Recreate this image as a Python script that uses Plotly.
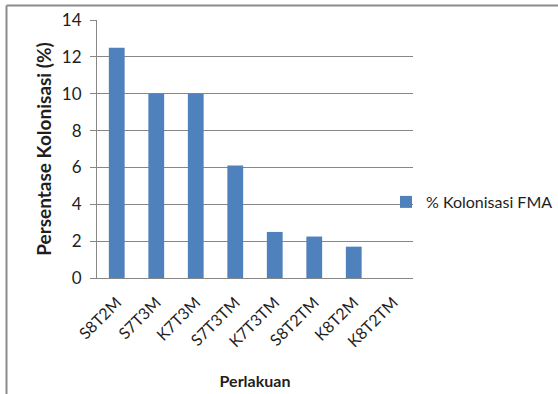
import plotly.graph_objects as go

categories = ["S8T2M", "S7T3M", "K7T3M", "S7T3TM", "K7T3TM", "S8T2TM", "K8T2M", "K8T2TM"]
values = [12.5, 10.0, 10.0, 6.1, 2.5, 2.25, 1.7, 0.0]
series_name = "% Kolonisasi FMA"
y_ticks = [0, 2, 4, 6, 8, 10, 12, 14]

W, H = 558, 394
L, R, T, B = 97, 413, 20, 278
pw, ph = R - L, B - T

FONT = "Lato, 'DejaVu Sans', sans-serif"
GRID = "#878787"
TXT = "#1e1e1e"

fig = go.Figure()
fig.add_trace(go.Bar(
    x=categories, y=values, name=series_name,
    marker=dict(color="#4F81BD", line=dict(width=0)),
    showlegend=True,
))

def px_x(x):
    return (x - L) / pw

def px_y(y):
    return (B - y) / ph

fig.update_layout(
    width=W, height=H,
    margin=dict(l=L, r=W - R, t=T, b=H - B, pad=0, autoexpand=False),
    paper_bgcolor="white", plot_bgcolor="white",
    bargap=0.6,
    font=dict(family=FONT, color=TXT),
    showlegend=True,
    legend=dict(
        x=px_x(386), y=px_y(202), xanchor="left", yanchor="middle",
        font=dict(size=16, family=FONT, color=TXT),
        bgcolor="rgba(0,0,0,0)", borderwidth=0,
        itemwidth=30,
    ),
    xaxis=dict(
        tickangle=-45, tickfont=dict(size=16, family=FONT, color=TXT),
        showline=True, linecolor=GRID, linewidth=1,
        ticks="", showgrid=False,
        ticklabelstandoff=8,
        title=dict(text="<b>Perlakuan</b>", font=dict(size=16, family=FONT, color=TXT), standoff=26),
    ),
    yaxis=dict(
        range=[0, 14], tickvals=y_ticks, ticktext=[str(v) for v in y_ticks],
        tickfont=dict(size=17, family=FONT, color=TXT),
        showgrid=True, gridcolor=GRID, gridwidth=1,
        showline=True, linecolor=GRID, linewidth=1,
        ticks="outside", ticklen=6, tickcolor=GRID,
        ticklabelstandoff=5,
        zeroline=False,
        title=dict(text="<b>Persentase Kolonisasi (%)</b>", font=dict(size=19, family=FONT, color=TXT), standoff=5),
    ),
    shapes=[
        dict(type="line", xref="paper", yref="paper",
             x0=px_x(6.5), x1=px_x(W + 5), y0=px_y(5.5), y1=px_y(5.5),
             line=dict(color="#8c8c8c", width=2)),
        dict(type="line", xref="paper", yref="paper",
             x0=px_x(6.5), x1=px_x(6.5), y0=px_y(5.5), y1=px_y(H + 5),
             line=dict(color="#8c8c8c", width=2)),
    ],
)

fig.write_html("out.html")
